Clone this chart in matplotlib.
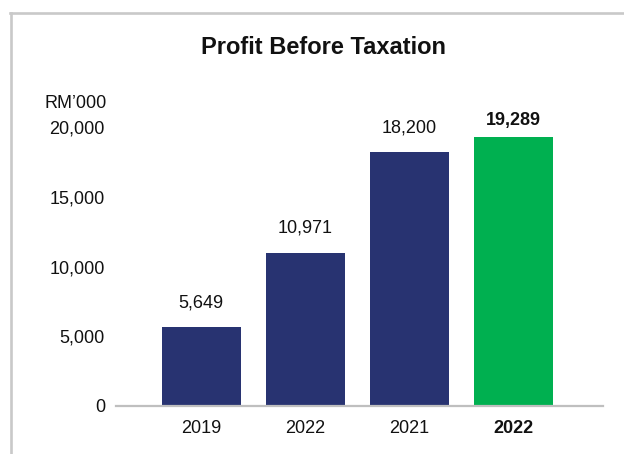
import matplotlib.pyplot as plt
from matplotlib.lines import Line2D
from matplotlib.ticker import FuncFormatter

plt.rcParams['font.family'] = ['Liberation Sans', 'DejaVu Sans']

# Profit before taxation, RM'000
years = ['2019', '2022', '2021', '2022']
profit = [5649, 10971, 18200, 19289]
bar_colors = ['#283371', '#283371', '#283371', '#00b050']
highlight = [False, False, False, True]
y_ticks = [0, 5000, 10000, 15000, 20000]

fig = plt.figure(figsize=(6.24, 4.54), dpi=100)
fig.patch.set_facecolor('white')

# light grey frame along top and left edge
frame_kw = dict(color='#c9c9c9', linewidth=1.9, transform=fig.transFigure)
fig.add_artist(Line2D([10 / 624, 1.0], [1 - 13 / 454, 1 - 13 / 454], **frame_kw))
fig.add_artist(Line2D([11 / 624, 11 / 624], [0.0, 1 - 13 / 454], **frame_kw))

ax = fig.add_axes([116 / 624, 48 / 454, 487 / 624, 279 / 454])

x = range(len(years))
bars = ax.bar(x, profit, width=0.76, color=bar_colors)

ax.set_xlim(-0.82, 3.86)
ax.set_ylim(0, 20000)
ax.set_yticks(y_ticks)
ax.yaxis.set_major_formatter(FuncFormatter(lambda v, _: f'{v:,.0f}'))
ax.set_xticks(list(x))
ax.set_xticklabels(years)

for side in ['top', 'right', 'left']:
    ax.spines[side].set_visible(False)
ax.spines['bottom'].set_color('#bfbfbf')
ax.spines['bottom'].set_linewidth(1.6)
ax.tick_params(axis='y', length=0, pad=8, labelsize=13, colors='#111111')
ax.tick_params(axis='x', length=0, pad=10, labelsize=13, colors='#111111')

for lbl, bold in zip(ax.get_xticklabels(), highlight):
    if bold:
        lbl.set_fontweight('bold')

# value labels above each bar
for rect, val, bold in zip(bars, profit, highlight):
    ax.annotate(f'{val:,}',
                xy=(rect.get_x() + rect.get_width() / 2, val),
                xytext=(0, 5.5 if bold else 11.5),
                textcoords='offset points',
                ha='center', va='bottom', fontsize=13,
                fontweight='bold' if bold else 'normal',
                color='#111111')

fig.text(0.5 * (200 + 447) / 624, 1 - 47 / 454, 'Profit Before Taxation',
         ha='center', va='center', fontsize=17, fontweight='bold', color='#111111')
fig.text(107 / 624, 1 - 104 / 454, 'RM\u2019000',
         ha='right', va='center', fontsize=13, color='#111111')

fig.savefig('out.png', dpi=100, facecolor='white')
plt.close(fig)
